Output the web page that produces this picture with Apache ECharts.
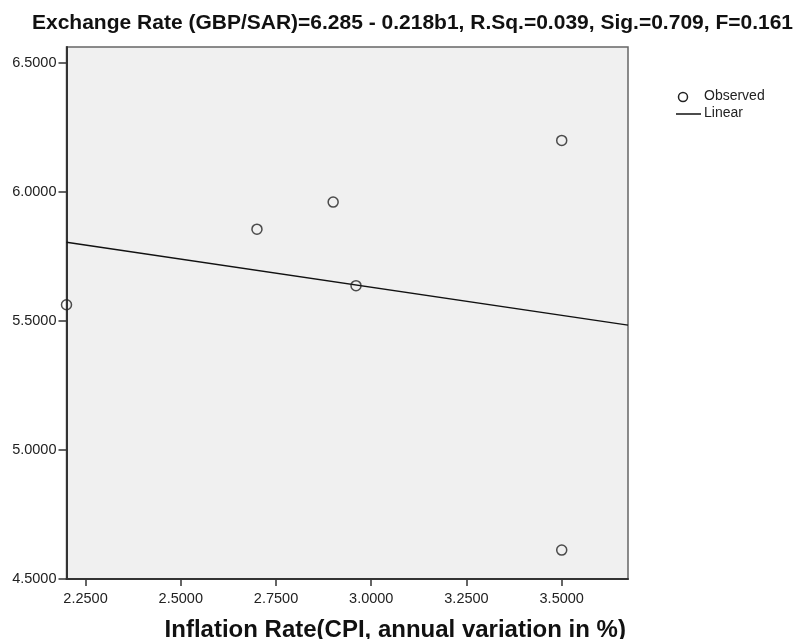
<!DOCTYPE html>
<html>
<head>
<meta charset="utf-8">
<script src="https://cdn.jsdelivr.net/npm/echarts@6/dist/echarts.min.js"></script>
<style>html,body{margin:0;padding:0;background:#fff}#c{width:798px;height:639px}</style>
</head>
<body>
<div id="c"></div>
<script>
const titleText = 'Exchange Rate (GBP/SAR)=6.285 - 0.218b1, R.Sq.=0.039, Sig.=0.709, F=0.161';
const xAxisName = 'Inflation Rate(CPI, annual variation in %)';
const observedX = [2.20, 2.70, 2.90, 2.96, 3.50, 3.50];
const observedY = [5.563, 5.856, 5.961, 5.637, 6.200, 4.612];
const linearX = [2.20, 3.674];
const linearY = [5.805, 5.484];
const xTicks = [2.25, 2.50, 2.75, 3.00, 3.25, 3.50];
const yTicks = [4.5, 5.0, 5.5, 6.0, 6.5];
const legendNames = ['Observed', 'Linear'];

const font = 'Liberation Sans, Arial, sans-serif';
const chart = echarts.init(document.getElementById('c'));
chart.setOption({
  animation: false,
  backgroundColor: '#ffffff',
  title: {
    text: titleText, left: 27, top: 8,
    textStyle: {fontFamily: font, fontSize: 21, fontWeight: 'bold', color: '#111'}
  },
  grid: {
    left: 66.5, right: 170, top: 47, bottom: 60,
    outerBoundsMode: 'none', containLabel: false,
    show: true, backgroundColor: '#f0f0f0', borderColor: '#666', borderWidth: 1.5
  },
  xAxis: {
    type: 'value', min: 2.2, max: 3.674,
    name: xAxisName, nameLocation: 'middle', nameGap: 39,
    nameTextStyle: {fontFamily: font, fontSize: 24, fontWeight: 'bold', color: '#111', padding: [0, 0, 0, 96]},
    axisLine: {show: true, onZero: false, lineStyle: {color: '#333', width: 2}},
    axisTick: {show: true, length: 7, customValues: xTicks, lineStyle: {color: '#333', width: 1.5}},
    axisLabel: {customValues: xTicks, formatter: v => v.toFixed(4), fontFamily: font, fontSize: 14.5, color: '#222', margin: 12},
    splitLine: {show: false}
  },
  yAxis: {
    type: 'value', min: 4.5, max: 6.562,
    axisLine: {show: true, onZero: false, lineStyle: {color: '#333', width: 2}},
    axisTick: {show: true, length: 8, customValues: yTicks, lineStyle: {color: '#333', width: 1.5}},
    axisLabel: {customValues: yTicks, formatter: v => v.toFixed(4), fontFamily: font, fontSize: 14.5, color: '#222', margin: 10},
    splitLine: {show: false}
  },
  graphic: [
    {type: 'circle', shape: {cx: 683, cy: 97, r: 4.5}, style: {fill: 'none', stroke: '#222', lineWidth: 1.5}},
    {type: 'text', left: 704, top: 89, style: {text: legendNames[0], font: '14px ' + font, fill: '#222'}},
    {type: 'line', shape: {x1: 676, y1: 114, x2: 701, y2: 114}, style: {stroke: '#111', lineWidth: 1.5}},
    {type: 'text', left: 704, top: 106, style: {text: legendNames[1], font: '14px ' + font, fill: '#222'}}
  ],
  series: [
    {
      name: legendNames[1], type: 'line', data: linearX.map((x, i) => [x, linearY[i]]),
      showSymbol: false, symbol: 'none', lineStyle: {color: '#111', width: 1.5}, z: 2
    },
    {
      name: legendNames[0], type: 'scatter', data: observedX.map((x, i) => [x, observedY[i]]),
      symbol: 'circle', symbolSize: 10, clip: false,
      itemStyle: {color: 'rgba(0,0,0,0)', borderColor: '#222', borderWidth: 1.5}, z: 3
    }
  ]
});
</script>
</body>
</html>
